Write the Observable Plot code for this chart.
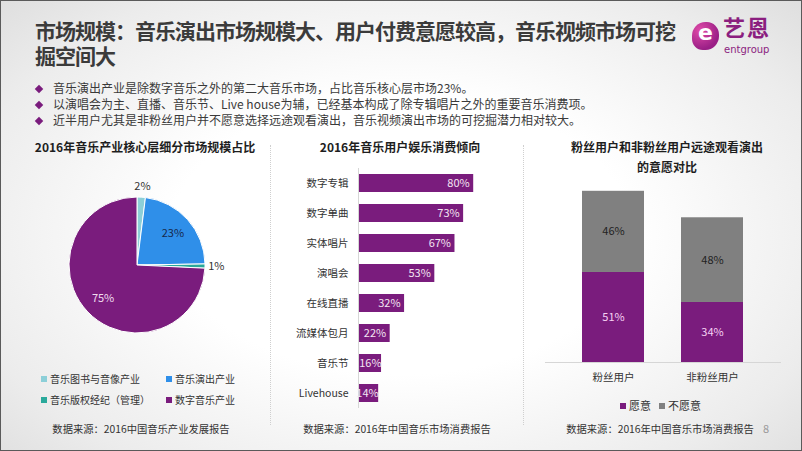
<!DOCTYPE html>
<html><head><meta charset="utf-8">
<script src="https://cdn.jsdelivr.net/npm/d3@7"></script>
<script src="https://cdn.jsdelivr.net/npm/@observablehq/plot@0.6"></script>
<style>
body{margin:0;background:#fff;}
#slide{position:relative;width:800px;height:449px;border:1px solid #5a5a5a;overflow:hidden;
 background:radial-gradient(ellipse 72% 78% at 50% 52%, #ffffff 40%, #ececec 78%, #dcdcdc 100%);
 font-family:"Noto Sans CJK SC","Noto Sans",sans-serif;color:#333;}
.abs{position:absolute;}
.title{left:34px;font-size:21px;line-height:25px;font-weight:bold;color:#3b3b3b;letter-spacing:-1px;white-space:nowrap;
 font-family:"Liberation Sans","Noto Sans CJK SC",sans-serif;}
.bul{left:34px;font-size:12px;line-height:16px;white-space:nowrap;color:#3a3a3a;}
.bul i{display:inline-block;width:6px;height:6px;background:#7a1c7d;transform:rotate(45deg);margin:0 11px 1px 1px;vertical-align:middle;}
.ct{font-size:12px;font-weight:bold;color:#1e1e1e;text-align:center;white-space:nowrap;transform:translateX(-50%);line-height:20px;}
.src{font-size:10.3px;color:#333;white-space:nowrap;transform:translateX(-50%);}
.sep{width:0;border-left:1px dotted #cfcfcf;}
.leg{font-size:10px;white-space:nowrap;color:#333;}
.leg b{display:inline-block;width:6px;height:6px;margin-right:3px;vertical-align:middle;position:relative;top:-1px;}
</style></head>
<body>
<div id="slide">
  <div class="abs title" style="top:18px">市场规模：音乐演出市场规模大、用户付费意愿较高，音乐视频市场可挖</div>
  <div class="abs title" style="top:43px">掘空间大</div>
  <div class="abs" style="left:691px;top:21px;width:27px;height:28px;border-radius:50% 45% 50% 40%;background:radial-gradient(circle at 30% 30%,#e04aa8,#9a1f86 70%);"></div>
  <div class="abs" style="left:697px;top:19px;font-size:22px;line-height:26px;font-weight:bold;color:#fff;font-family:'DejaVu Sans';">e</div>
  <div class="abs" style="left:722px;top:16px;font-size:22px;line-height:24px;font-weight:bold;color:#8b1e7f;letter-spacing:2px;font-family:'Liberation Sans','Noto Sans CJK SC',sans-serif;">艺恩</div>
  <div class="abs" style="left:723px;top:43px;font-size:10px;line-height:11px;color:#8b1e7f;font-family:'DejaVu Sans';">entgroup</div>

  <div class="abs bul" style="top:79px"><i></i>音乐演出产业是除数字音乐之外的第二大音乐市场，占比音乐核心层市场23%。</div>
  <div class="abs bul" style="top:95px"><i></i>以演唱会为主、直播、音乐节、Live house为辅，已经基本构成了除专辑唱片之外的重要音乐消费项。</div>
  <div class="abs bul" style="top:111px"><i></i>近半用户尤其是非粉丝用户并不愿意选择远途观看演出，音乐视频演出市场的可挖掘潜力相对较大。</div>

  <div class="abs ct" style="left:144px;top:136px">2016年音乐产业核心层细分市场规模占比</div>
  <div class="abs ct" style="left:399px;top:136px">2016年音乐用户娱乐消费倾向</div>
  <div class="abs ct" style="left:666px;top:136px">粉丝用户和非粉丝用户远途观看演出<br>的意愿对比</div>

  <div class="abs sep" style="left:269px;top:144px;height:280px"></div>
  <div class="abs sep" style="left:522px;top:144px;height:280px"></div>

  <div id="pie" class="abs" style="left:19px;top:159px"></div>
  <div id="bars" class="abs" style="left:269px;top:159px"></div>
  <div id="stack" class="abs" style="left:539px;top:179px"></div>

  <div id="pieLegend"></div>
  <div id="stackLegend"></div>

  <div class="abs src" style="left:140px;top:420px">数据来源：2016中国音乐产业发展报告</div>
  <div class="abs src" style="left:396px;top:420px">数据来源：2016年中国音乐市场消费报告</div>
  <div class="abs src" style="left:659px;top:420px">数据来源：2016年中国音乐市场消费报告</div>
  <div class="abs" style="left:762px;top:419px;font-size:11px;color:#999;">8</div>
</div>
<script>
// ---- data ----
const pieCats = ["音乐图书与音像产业", "音乐演出产业", "音乐版权经纪（管理）", "数字音乐产业"];
const pieValues = [2, 23, 1, 75];
const pieColors = ["#8ccfd8", "#2f8fe9", "#2aa99b", "#7a1c7d"];

const consumeCats = ["数字专辑", "数字单曲", "实体唱片", "演唱会", "在线直播", "流媒体包月", "音乐节", "Livehouse"];
const consumeValues = [80, 73, 67, 53, 32, 22, 16, 14];

const userGroups = ["粉丝用户", "非粉丝用户"];
const willingValues = [51, 34];
const unwillingValues = [46, 48];
const willingKeys = ["愿意", "不愿意"];

const purple = "#7a1c7d";
const grey = "#808080";
const font = "'Noto Sans CJK SC', sans-serif";

// ---- pie ----
const arcs = d3.pie().sort(null).value(d => d)(pieValues);
const pieLabels = arcs.map((a, i) => {
  const m = (a.startAngle + a.endAngle) / 2;
  const rr = pieValues[i] < 5 ? 1.16 : 0.7;
  return {x: rr * Math.sin(m), y: rr * Math.cos(m), text: pieValues[i] + "%", i, inside: pieValues[i] >= 5};
});
function pieSlices(index, scales) {
  const cx = scales.x(0), cy = scales.y(0), r = scales.x(1) - scales.x(0);
  const g = d3.create("svg:g").attr("transform", `translate(${cx},${cy})`);
  g.selectAll("path").data(arcs).join("path")
    .attr("d", d3.arc().innerRadius(0).outerRadius(r))
    .attr("fill", (d, i) => pieColors[i])
    .attr("stroke", "#fff").attr("stroke-width", 1);
  return g.node();
}
const pie = Plot.plot({
  width: 240, height: 200,
  marginLeft: 49, marginRight: 55, marginTop: 37, marginBottom: 27,
  x: {domain: [-1, 1], axis: null},
  y: {domain: [-1, 1], axis: null},
  style: {background: "transparent", fontFamily: font, fontSize: "11px"},
  marks: [
    pieSlices,
    Plot.text(pieLabels.filter(d => !d.inside), {x: "x", y: "y", text: "text", fill: "#333", fontSize: 11}),
    Plot.text(pieLabels.filter(d => d.inside && d.i === 1), {x: "x", y: "y", text: "text", fill: "#17294d", fontSize: 11}),
    Plot.text(pieLabels.filter(d => d.inside && d.i === 3), {x: "x", y: "y", text: "text", fill: "#f0dcef", fontSize: 11})
  ]
});
document.getElementById("pie").append(pie);

// pie legend
const pl = document.getElementById("pieLegend");
const legPos = [[40, 370], [165, 370], [40, 391], [165, 391]];
pieCats.forEach((c, i) => {
  const d = document.createElement("div");
  d.className = "abs leg";
  d.style.left = legPos[i][0] + "px"; d.style.top = legPos[i][1] + "px";
  d.innerHTML = `<b style="background:${pieColors[i]}"></b>${c}`;
  pl.append(d);
});

// ---- horizontal bars ----
const consume = consumeCats.map((c, i) => ({c, v: consumeValues[i]}));
const bars = Plot.plot({
  width: 255, height: 255,
  marginLeft: 88, marginRight: 23, marginTop: 8, marginBottom: 7,
  x: {domain: [0, 100], axis: null},
  y: {domain: consumeCats, paddingInner: 0.4, paddingOuter: 0.2, label: null, tickSize: 0, tickPadding: 10},
  style: {background: "transparent", fontFamily: font, fontSize: "10.5px", color: "#333"},
  marks: [
    Plot.barX(consume, {x: "v", y: "c", fill: purple}),
    Plot.ruleX([0], {stroke: "#d6d6d6"}),
    Plot.text(consume.filter(d => d.v >= 20), {x: "v", y: "c", text: d => d.v + "%", dx: -4, textAnchor: "end", fill: "#f3e5f2", fontSize: 11}),
    Plot.text(consume.filter(d => d.v < 20), {x: "v", y: "c", text: d => d.v + "%", dx: 0, textAnchor: "end", fill: "#f3e5f2", fontSize: 11})
  ]
});
document.getElementById("bars").append(bars);

// ---- stacked bars ----
const stackData = [];
willingKeys.forEach((k, j) => userGroups.forEach((g, i) => {
  stackData.push({g, k, v: j === 0 ? willingValues[i] : unwillingValues[i]});
}));
const stack = Plot.plot({
  width: 255, height: 212,
  marginLeft: 5, marginRight: 14, marginTop: 5.5, marginBottom: 30,
  x: {domain: userGroups, padding: 0.373, label: null, tickSize: 0, tickPadding: 11},
  y: {domain: [0, 100], axis: null},
  color: {domain: willingKeys, range: [purple, grey]},
  style: {background: "transparent", fontFamily: font, fontSize: "10.5px", color: "#333"},
  marks: [
    Plot.barY(stackData, {x: "g", y: "v", fill: "k"}),
    Plot.ruleY([0], {stroke: "#d6d6d6"}),
    Plot.text(stackData, Plot.stackY({x: "g", y: "v", z: "k",
      text: d => d.k === "不愿意" ? d.v + "%" : "", fill: "#222", fontSize: 11})),
    Plot.text(stackData, Plot.stackY({x: "g", y: "v", z: "k",
      text: d => d.k === "愿意" ? d.v + "%" : "", fill: "#f6d2f4", fontSize: 11}))
  ]
});
document.getElementById("stack").append(stack);

// stacked legend
const sl = document.getElementById("stackLegend");
const sPos = [619, 658];
willingKeys.forEach((k, i) => {
  const d = document.createElement("div");
  d.className = "abs leg";
  d.style.left = sPos[i] + "px"; d.style.top = "396px"; d.style.fontSize = "11px";
  d.innerHTML = `<b style="background:${i === 0 ? purple : grey}"></b>${k}`;
  sl.append(d);
});
</script>
</body></html>
